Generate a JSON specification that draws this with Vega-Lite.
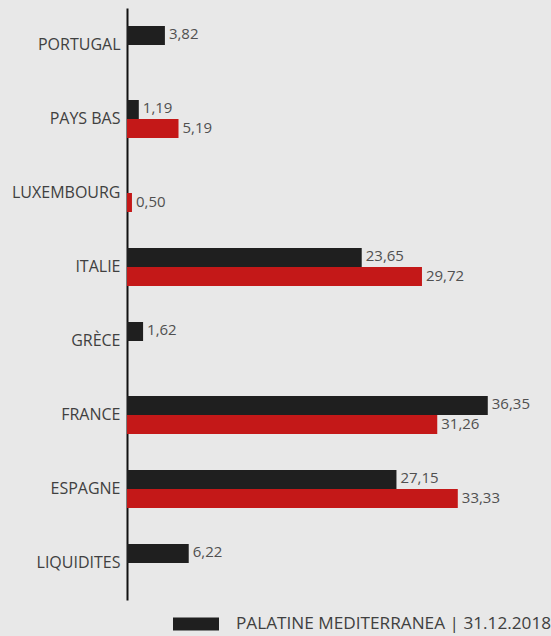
{
  "$schema": "https://vega.github.io/schema/vega-lite/v6.json",
  "width": 397,
  "height": 592,
  "autosize": {"type": "none"},
  "padding": {"left": 127, "top": 8, "right": 27, "bottom": 36},
  "background": "#e8e8e8",
  "config": {
    "view": {"stroke": null},
    "font": "Open Sans",
    "locale": {"number": {"decimal": ",", "thousands": " ", "grouping": [3], "currency": ["", " €"]}}
  },
  "data": {
    "values": [
      {"pays": "PORTUGAL", "serie": "PALATINE MEDITERRANEA | 31.12.2018", "valeur": 3.82},
      {"pays": "PAYS BAS", "serie": "PALATINE MEDITERRANEA | 31.12.2018", "valeur": 1.19},
      {"pays": "PAYS BAS", "serie": "Référence", "valeur": 5.19},
      {"pays": "LUXEMBOURG", "serie": "Référence", "valeur": 0.50},
      {"pays": "ITALIE", "serie": "PALATINE MEDITERRANEA | 31.12.2018", "valeur": 23.65},
      {"pays": "ITALIE", "serie": "Référence", "valeur": 29.72},
      {"pays": "GRÈCE", "serie": "PALATINE MEDITERRANEA | 31.12.2018", "valeur": 1.62},
      {"pays": "FRANCE", "serie": "PALATINE MEDITERRANEA | 31.12.2018", "valeur": 36.35},
      {"pays": "FRANCE", "serie": "Référence", "valeur": 31.26},
      {"pays": "ESPAGNE", "serie": "PALATINE MEDITERRANEA | 31.12.2018", "valeur": 27.15},
      {"pays": "ESPAGNE", "serie": "Référence", "valeur": 33.33},
      {"pays": "LIQUIDITES", "serie": "PALATINE MEDITERRANEA | 31.12.2018", "valeur": 6.22}
    ]
  },
  "encoding": {
    "y": {
      "field": "pays",
      "type": "nominal",
      "sort": ["PORTUGAL", "PAYS BAS", "LUXEMBOURG", "ITALIE", "GRÈCE", "FRANCE", "ESPAGNE", "LIQUIDITES"],
      "scale": {"paddingInner": 0.486, "paddingOuter": 0.243},
      "axis": {
        "title": null,
        "ticks": false,
        "domainColor": "#111111",
        "domainWidth": 2,
        "labelFontSize": 16,
        "labelColor": "#404040",
        "labelPadding": 7,
        "labelFont": "Open Sans",
        "labelLimit": 200
      }
    },
    "yOffset": {
      "field": "serie",
      "type": "nominal",
      "scale": {"domain": ["PALATINE MEDITERRANEA | 31.12.2018", "Référence"], "paddingInner": 0, "paddingOuter": 0}
    },
    "x": {
      "field": "valeur",
      "type": "quantitative",
      "scale": {"domain": [0, 40], "nice": false},
      "axis": null
    }
  },
  "layer": [
    {
      "mark": {"type": "bar"},
      "encoding": {
        "color": {
          "field": "serie",
          "type": "nominal",
          "scale": {"domain": ["PALATINE MEDITERRANEA | 31.12.2018", "Référence"], "range": ["#1f1f1f", "#c41818"]},
          "legend": {
            "values": ["PALATINE MEDITERRANEA | 31.12.2018"],
            "title": null,
            "orient": "none",
            "legendX": 46,
            "legendY": 593,
            "padding": 0,
            "symbolType": "M-1,-0.28H1V0.28H-1Z",
            "symbolSize": 2116,
            "symbolStrokeWidth": 0,
            "symbolOpacity": 1,
            "labelFontSize": 17.2,
            "labelColor": "#404040",
            "labelOffset": 17,
            "labelFont": "Open Sans",
            "labelLimit": 500
          }
        }
      }
    },
    {
      "mark": {"type": "text", "align": "left", "baseline": "middle", "dx": 4, "dy": -1, "fontSize": 15, "color": "#505050"},
      "encoding": {
        "text": {"field": "valeur", "type": "quantitative", "format": ".2f"}
      }
    }
  ]
}
